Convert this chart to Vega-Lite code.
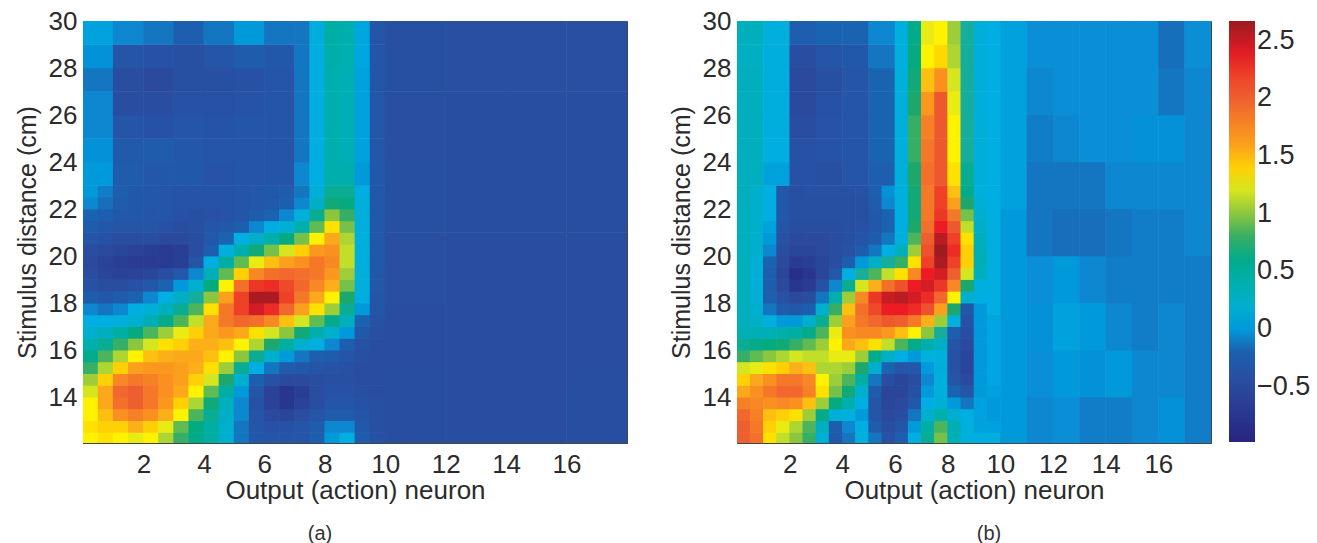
{"$schema":"https://vega.github.io/schema/vega-lite/v6.json","padding":{"left":14,"top":7,"right":0,"bottom":0},
"background":"white",
"datasets":{
"aF":[
{"x":0.25,"y":12.25,"v":1.3},{"x":0.75,"y":12.25,"v":1.35},{"x":1.25,"y":12.25,"v":1.3},{"x":1.75,"y":12.25,"v":1.25},{"x":2.25,"y":12.25,"v":1.3},{"x":2.75,"y":12.25,"v":1.1},{"x":3.25,"y":12.25,"v":0.8},{"x":3.75,"y":12.25,"v":0.6},{"x":4.25,"y":12.25,"v":0.45},{"x":4.75,"y":12.25,"v":0.2},{"x":5.25,"y":12.25,"v":-0.1},{"x":5.75,"y":12.25,"v":-0.3},{"x":6.25,"y":12.25,"v":-0.35},{"x":6.75,"y":12.25,"v":-0.35},{"x":7.25,"y":12.25,"v":-0.35},{"x":7.75,"y":12.25,"v":-0.2},{"x":8.25,"y":12.25,"v":0},{"x":8.75,"y":12.25,"v":0.05},{"x":9.25,"y":12.25,"v":-0.25},{"x":9.75,"y":12.25,"v":-0.4},
{"x":0.25,"y":12.75,"v":1.35},{"x":0.75,"y":12.75,"v":1.4},{"x":1.25,"y":12.75,"v":1.4},{"x":1.75,"y":12.75,"v":1.5},{"x":2.25,"y":12.75,"v":1.4},{"x":2.75,"y":12.75,"v":1.25},{"x":3.25,"y":12.75,"v":0.9},{"x":3.75,"y":12.75,"v":0.65},{"x":4.25,"y":12.75,"v":0.45},{"x":4.75,"y":12.75,"v":0.2},{"x":5.25,"y":12.75,"v":-0.1},{"x":5.75,"y":12.75,"v":-0.35},{"x":6.25,"y":12.75,"v":-0.4},{"x":6.75,"y":12.75,"v":-0.4},{"x":7.25,"y":12.75,"v":-0.35},{"x":7.75,"y":12.75,"v":-0.25},{"x":8.25,"y":12.75,"v":-0.05},{"x":8.75,"y":12.75,"v":-0.05},{"x":9.25,"y":12.75,"v":-0.3},{"x":9.75,"y":12.75,"v":-0.42},
{"x":0.25,"y":13.25,"v":1.3},{"x":0.75,"y":13.25,"v":1.45},{"x":1.25,"y":13.25,"v":1.7},{"x":1.75,"y":13.25,"v":1.8},{"x":2.25,"y":13.25,"v":1.7},{"x":2.75,"y":13.25,"v":1.5},{"x":3.25,"y":13.25,"v":1.3},{"x":3.75,"y":13.25,"v":0.85},{"x":4.25,"y":13.25,"v":0.55},{"x":4.75,"y":13.25,"v":0.25},{"x":5.25,"y":13.25,"v":-0.05},{"x":5.75,"y":13.25,"v":-0.35},{"x":6.25,"y":13.25,"v":-0.5},{"x":6.75,"y":13.25,"v":-0.55},{"x":7.25,"y":13.25,"v":-0.45},{"x":7.75,"y":13.25,"v":-0.35},{"x":8.25,"y":13.25,"v":-0.25},{"x":8.75,"y":13.25,"v":-0.25},{"x":9.25,"y":13.25,"v":-0.35},{"x":9.75,"y":13.25,"v":-0.42},
{"x":0.25,"y":13.75,"v":1.3},{"x":0.75,"y":13.75,"v":1.55},{"x":1.25,"y":13.75,"v":1.9},{"x":1.75,"y":13.75,"v":2},{"x":2.25,"y":13.75,"v":1.85},{"x":2.75,"y":13.75,"v":1.65},{"x":3.25,"y":13.75,"v":1.4},{"x":3.75,"y":13.75,"v":1.1},{"x":4.25,"y":13.75,"v":0.7},{"x":4.75,"y":13.75,"v":0.3},{"x":5.25,"y":13.75,"v":-0.05},{"x":5.75,"y":13.75,"v":-0.4},{"x":6.25,"y":13.75,"v":-0.6},{"x":6.75,"y":13.75,"v":-0.75},{"x":7.25,"y":13.75,"v":-0.6},{"x":7.75,"y":13.75,"v":-0.45},{"x":8.25,"y":13.75,"v":-0.35},{"x":8.75,"y":13.75,"v":-0.35},{"x":9.25,"y":13.75,"v":-0.4},{"x":9.75,"y":13.75,"v":-0.43},
{"x":0.25,"y":14.25,"v":1.2},{"x":0.75,"y":14.25,"v":1.55},{"x":1.25,"y":14.25,"v":1.95},{"x":1.75,"y":14.25,"v":2},{"x":2.25,"y":14.25,"v":1.85},{"x":2.75,"y":14.25,"v":1.7},{"x":3.25,"y":14.25,"v":1.55},{"x":3.75,"y":14.25,"v":1.3},{"x":4.25,"y":14.25,"v":0.9},{"x":4.75,"y":14.25,"v":0.45},{"x":5.25,"y":14.25,"v":0},{"x":5.75,"y":14.25,"v":-0.35},{"x":6.25,"y":14.25,"v":-0.6},{"x":6.75,"y":14.25,"v":-0.75},{"x":7.25,"y":14.25,"v":-0.65},{"x":7.75,"y":14.25,"v":-0.45},{"x":8.25,"y":14.25,"v":-0.4},{"x":8.75,"y":14.25,"v":-0.4},{"x":9.25,"y":14.25,"v":-0.42},{"x":9.75,"y":14.25,"v":-0.45},
{"x":0.25,"y":14.75,"v":1.05},{"x":0.75,"y":14.75,"v":1.4},{"x":1.25,"y":14.75,"v":1.75},{"x":1.75,"y":14.75,"v":1.85},{"x":2.25,"y":14.75,"v":1.8},{"x":2.75,"y":14.75,"v":1.7},{"x":3.25,"y":14.75,"v":1.6},{"x":3.75,"y":14.75,"v":1.4},{"x":4.25,"y":14.75,"v":1.2},{"x":4.75,"y":14.75,"v":0.75},{"x":5.25,"y":14.75,"v":0.2},{"x":5.75,"y":14.75,"v":-0.2},{"x":6.25,"y":14.75,"v":-0.4},{"x":6.75,"y":14.75,"v":-0.5},{"x":7.25,"y":14.75,"v":-0.5},{"x":7.75,"y":14.75,"v":-0.45},{"x":8.25,"y":14.75,"v":-0.42},{"x":8.75,"y":14.75,"v":-0.42},{"x":9.25,"y":14.75,"v":-0.45},{"x":9.75,"y":14.75,"v":-0.45},
{"x":0.25,"y":15.25,"v":0.8},{"x":0.75,"y":15.25,"v":1.1},{"x":1.25,"y":15.25,"v":1.4},{"x":1.75,"y":15.25,"v":1.6},{"x":2.25,"y":15.25,"v":1.65},{"x":2.75,"y":15.25,"v":1.65},{"x":3.25,"y":15.25,"v":1.6},{"x":3.75,"y":15.25,"v":1.5},{"x":4.25,"y":15.25,"v":1.35},{"x":4.75,"y":15.25,"v":1.05},{"x":5.25,"y":15.25,"v":0.55},{"x":5.75,"y":15.25,"v":0.05},{"x":6.25,"y":15.25,"v":-0.1},{"x":6.75,"y":15.25,"v":-0.25},{"x":7.25,"y":15.25,"v":-0.3},{"x":7.75,"y":15.25,"v":-0.35},{"x":8.25,"y":15.25,"v":-0.38},{"x":8.75,"y":15.25,"v":-0.4},{"x":9.25,"y":15.25,"v":-0.45},{"x":9.75,"y":15.25,"v":-0.45},
{"x":0.25,"y":15.75,"v":0.6},{"x":0.75,"y":15.75,"v":0.85},{"x":1.25,"y":15.75,"v":1.1},{"x":1.75,"y":15.75,"v":1.3},{"x":2.25,"y":15.75,"v":1.45},{"x":2.75,"y":15.75,"v":1.5},{"x":3.25,"y":15.75,"v":1.55},{"x":3.75,"y":15.75,"v":1.55},{"x":4.25,"y":15.75,"v":1.45},{"x":4.75,"y":15.75,"v":1.3},{"x":5.25,"y":15.75,"v":1},{"x":5.75,"y":15.75,"v":0.55},{"x":6.25,"y":15.75,"v":0.2},{"x":6.75,"y":15.75,"v":0},{"x":7.25,"y":15.75,"v":-0.1},{"x":7.75,"y":15.75,"v":-0.2},{"x":8.25,"y":15.75,"v":-0.25},{"x":8.75,"y":15.75,"v":-0.35},{"x":9.25,"y":15.75,"v":-0.42},{"x":9.75,"y":15.75,"v":-0.45},
{"x":0.25,"y":16.25,"v":0.4},{"x":0.75,"y":16.25,"v":0.55},{"x":1.25,"y":16.25,"v":0.8},{"x":1.75,"y":16.25,"v":1},{"x":2.25,"y":16.25,"v":1.2},{"x":2.75,"y":16.25,"v":1.35},{"x":3.25,"y":16.25,"v":1.4},{"x":3.75,"y":16.25,"v":1.5},{"x":4.25,"y":16.25,"v":1.5},{"x":4.75,"y":16.25,"v":1.45},{"x":5.25,"y":16.25,"v":1.3},{"x":5.75,"y":16.25,"v":1.1},{"x":6.25,"y":16.25,"v":0.75},{"x":6.75,"y":16.25,"v":0.45},{"x":7.25,"y":16.25,"v":0.2},{"x":7.75,"y":16.25,"v":0.05},{"x":8.25,"y":16.25,"v":-0.05},{"x":8.75,"y":16.25,"v":-0.2},{"x":9.25,"y":16.25,"v":-0.4},{"x":9.75,"y":16.25,"v":-0.45},
{"x":0.25,"y":16.75,"v":0.2},{"x":0.75,"y":16.75,"v":0.3},{"x":1.25,"y":16.75,"v":0.45},{"x":1.75,"y":16.75,"v":0.65},{"x":2.25,"y":16.75,"v":0.85},{"x":2.75,"y":16.75,"v":1.05},{"x":3.25,"y":16.75,"v":1.25},{"x":3.75,"y":16.75,"v":1.4},{"x":4.25,"y":16.75,"v":1.55},{"x":4.75,"y":16.75,"v":1.65},{"x":5.25,"y":16.75,"v":1.55},{"x":5.75,"y":16.75,"v":1.35},{"x":6.25,"y":16.75,"v":1.2},{"x":6.75,"y":16.75,"v":1},{"x":7.25,"y":16.75,"v":0.7},{"x":7.75,"y":16.75,"v":0.4},{"x":8.25,"y":16.75,"v":0.2},{"x":8.75,"y":16.75,"v":0},{"x":9.25,"y":16.75,"v":-0.3},{"x":9.75,"y":16.75,"v":-0.42},
{"x":0.25,"y":17.25,"v":0.05},{"x":0.75,"y":17.25,"v":0.05},{"x":1.25,"y":17.25,"v":0.1},{"x":1.75,"y":17.25,"v":0.2},{"x":2.25,"y":17.25,"v":0.35},{"x":2.75,"y":17.25,"v":0.6},{"x":3.25,"y":17.25,"v":0.85},{"x":3.75,"y":17.25,"v":1.15},{"x":4.25,"y":17.25,"v":1.55},{"x":4.75,"y":17.25,"v":1.85},{"x":5.25,"y":17.25,"v":1.95},{"x":5.75,"y":17.25,"v":1.9},{"x":6.25,"y":17.25,"v":1.75},{"x":6.75,"y":17.25,"v":1.45},{"x":7.25,"y":17.25,"v":1.2},{"x":7.75,"y":17.25,"v":0.9},{"x":8.25,"y":17.25,"v":0.6},{"x":8.75,"y":17.25,"v":0.3},{"x":9.25,"y":17.25,"v":-0.15},{"x":9.75,"y":17.25,"v":-0.4},
{"x":0.25,"y":17.75,"v":-0.05},{"x":0.75,"y":17.75,"v":-0.1},{"x":1.25,"y":17.75,"v":-0.05},{"x":1.75,"y":17.75,"v":0.05},{"x":2.25,"y":17.75,"v":0.15},{"x":2.75,"y":17.75,"v":0.3},{"x":3.25,"y":17.75,"v":0.55},{"x":3.75,"y":17.75,"v":0.85},{"x":4.25,"y":17.75,"v":1.35},{"x":4.75,"y":17.75,"v":1.85},{"x":5.25,"y":17.75,"v":2.2},{"x":5.75,"y":17.75,"v":2.45},{"x":6.25,"y":17.75,"v":2.3},{"x":6.75,"y":17.75,"v":1.95},{"x":7.25,"y":17.75,"v":1.6},{"x":7.75,"y":17.75,"v":1.35},{"x":8.25,"y":17.75,"v":1.05},{"x":8.75,"y":17.75,"v":0.55},{"x":9.25,"y":17.75,"v":0},{"x":9.75,"y":17.75,"v":-0.35},
{"x":0.25,"y":18.25,"v":-0.25},{"x":0.75,"y":18.25,"v":-0.3},{"x":1.25,"y":18.25,"v":-0.25},{"x":1.75,"y":18.25,"v":-0.15},{"x":2.25,"y":18.25,"v":-0.05},{"x":2.75,"y":18.25,"v":0.05},{"x":3.25,"y":18.25,"v":0.25},{"x":3.75,"y":18.25,"v":0.5},{"x":4.25,"y":18.25,"v":1},{"x":4.75,"y":18.25,"v":1.6},{"x":5.25,"y":18.25,"v":2.2},{"x":5.75,"y":18.25,"v":2.6},{"x":6.25,"y":18.25,"v":2.6},{"x":6.75,"y":18.25,"v":2.2},{"x":7.25,"y":18.25,"v":1.85},{"x":7.75,"y":18.25,"v":1.55},{"x":8.25,"y":18.25,"v":1.3},{"x":8.75,"y":18.25,"v":0.75},{"x":9.25,"y":18.25,"v":0.05},{"x":9.75,"y":18.25,"v":-0.33},
{"x":0.25,"y":18.75,"v":-0.4},{"x":0.75,"y":18.75,"v":-0.45},{"x":1.25,"y":18.75,"v":-0.45},{"x":1.75,"y":18.75,"v":-0.4},{"x":2.25,"y":18.75,"v":-0.3},{"x":2.75,"y":18.75,"v":-0.15},{"x":3.25,"y":18.75,"v":0},{"x":3.75,"y":18.75,"v":0.2},{"x":4.25,"y":18.75,"v":0.65},{"x":4.75,"y":18.75,"v":1.3},{"x":5.25,"y":18.75,"v":1.9},{"x":5.75,"y":18.75,"v":2.25},{"x":6.25,"y":18.75,"v":2.3},{"x":6.75,"y":18.75,"v":2.15},{"x":7.25,"y":18.75,"v":1.95},{"x":7.75,"y":18.75,"v":1.75},{"x":8.25,"y":18.75,"v":1.5},{"x":8.75,"y":18.75,"v":0.95},{"x":9.25,"y":18.75,"v":0.1},{"x":9.75,"y":18.75,"v":-0.32},
{"x":0.25,"y":19.25,"v":-0.45},{"x":0.75,"y":19.25,"v":-0.55},{"x":1.25,"y":19.25,"v":-0.6},{"x":1.75,"y":19.25,"v":-0.6},{"x":2.25,"y":19.25,"v":-0.55},{"x":2.75,"y":19.25,"v":-0.45},{"x":3.25,"y":19.25,"v":-0.3},{"x":3.75,"y":19.25,"v":-0.05},{"x":4.25,"y":19.25,"v":0.35},{"x":4.75,"y":19.25,"v":0.9},{"x":5.25,"y":19.25,"v":1.4},{"x":5.75,"y":19.25,"v":1.75},{"x":6.25,"y":19.25,"v":1.9},{"x":6.75,"y":19.25,"v":1.95},{"x":7.25,"y":19.25,"v":1.9},{"x":7.75,"y":19.25,"v":1.85},{"x":8.25,"y":19.25,"v":1.65},{"x":8.75,"y":19.25,"v":1.05},{"x":9.25,"y":19.25,"v":0.1},{"x":9.75,"y":19.25,"v":-0.32},
{"x":0.25,"y":19.75,"v":-0.5},{"x":0.75,"y":19.75,"v":-0.6},{"x":1.25,"y":19.75,"v":-0.65},{"x":1.75,"y":19.75,"v":-0.7},{"x":2.25,"y":19.75,"v":-0.7},{"x":2.75,"y":19.75,"v":-0.7},{"x":3.25,"y":19.75,"v":-0.65},{"x":3.75,"y":19.75,"v":-0.35},{"x":4.25,"y":19.75,"v":0.05},{"x":4.75,"y":19.75,"v":0.45},{"x":5.25,"y":19.75,"v":0.9},{"x":5.75,"y":19.75,"v":1.25},{"x":6.25,"y":19.75,"v":1.45},{"x":6.75,"y":19.75,"v":1.6},{"x":7.25,"y":19.75,"v":1.7},{"x":7.75,"y":19.75,"v":1.85},{"x":8.25,"y":19.75,"v":1.75},{"x":8.75,"y":19.75,"v":1.15},{"x":9.25,"y":19.75,"v":0.1},{"x":9.75,"y":19.75,"v":-0.3},
{"x":0.25,"y":20.25,"v":-0.45},{"x":0.75,"y":20.25,"v":-0.5},{"x":1.25,"y":20.25,"v":-0.55},{"x":1.75,"y":20.25,"v":-0.6},{"x":2.25,"y":20.25,"v":-0.65},{"x":2.75,"y":20.25,"v":-0.7},{"x":3.25,"y":20.25,"v":-0.65},{"x":3.75,"y":20.25,"v":-0.45},{"x":4.25,"y":20.25,"v":-0.2},{"x":4.75,"y":20.25,"v":0.1},{"x":5.25,"y":20.25,"v":0.4},{"x":5.75,"y":20.25,"v":0.7},{"x":6.25,"y":20.25,"v":0.95},{"x":6.75,"y":20.25,"v":1.2},{"x":7.25,"y":20.25,"v":1.4},{"x":7.75,"y":20.25,"v":1.65},{"x":8.25,"y":20.25,"v":1.7},{"x":8.75,"y":20.25,"v":1.15},{"x":9.25,"y":20.25,"v":0.1},{"x":9.75,"y":20.25,"v":-0.3},
{"x":0.25,"y":20.75,"v":-0.35},{"x":0.75,"y":20.75,"v":-0.4},{"x":1.25,"y":20.75,"v":-0.45},{"x":1.75,"y":20.75,"v":-0.45},{"x":2.25,"y":20.75,"v":-0.45},{"x":2.75,"y":20.75,"v":-0.5},{"x":3.25,"y":20.75,"v":-0.5},{"x":3.75,"y":20.75,"v":-0.45},{"x":4.25,"y":20.75,"v":-0.3},{"x":4.75,"y":20.75,"v":-0.15},{"x":5.25,"y":20.75,"v":0.05},{"x":5.75,"y":20.75,"v":0.25},{"x":6.25,"y":20.75,"v":0.4},{"x":6.75,"y":20.75,"v":0.65},{"x":7.25,"y":20.75,"v":0.95},{"x":7.75,"y":20.75,"v":1.3},{"x":8.25,"y":20.75,"v":1.55},{"x":8.75,"y":20.75,"v":1.1},{"x":9.25,"y":20.75,"v":0.1},{"x":9.75,"y":20.75,"v":-0.3},
{"x":0.25,"y":21.25,"v":-0.25},{"x":0.75,"y":21.25,"v":-0.3},{"x":1.25,"y":21.25,"v":-0.35},{"x":1.75,"y":21.25,"v":-0.35},{"x":2.25,"y":21.25,"v":-0.35},{"x":2.75,"y":21.25,"v":-0.4},{"x":3.25,"y":21.25,"v":-0.45},{"x":3.75,"y":21.25,"v":-0.42},{"x":4.25,"y":21.25,"v":-0.35},{"x":4.75,"y":21.25,"v":-0.3},{"x":5.25,"y":21.25,"v":-0.2},{"x":5.75,"y":21.25,"v":-0.05},{"x":6.25,"y":21.25,"v":0.05},{"x":6.75,"y":21.25,"v":0.15},{"x":7.25,"y":21.25,"v":0.4},{"x":7.75,"y":21.25,"v":0.9},{"x":8.25,"y":21.25,"v":1.35},{"x":8.75,"y":21.25,"v":0.95},{"x":9.25,"y":21.25,"v":0.1},{"x":9.75,"y":21.25,"v":-0.3},
{"x":0.25,"y":21.75,"v":-0.15},{"x":0.75,"y":21.75,"v":-0.2},{"x":1.25,"y":21.75,"v":-0.3},{"x":1.75,"y":21.75,"v":-0.3},{"x":2.25,"y":21.75,"v":-0.35},{"x":2.75,"y":21.75,"v":-0.35},{"x":3.25,"y":21.75,"v":-0.4},{"x":3.75,"y":21.75,"v":-0.42},{"x":4.25,"y":21.75,"v":-0.4},{"x":4.75,"y":21.75,"v":-0.38},{"x":5.25,"y":21.75,"v":-0.35},{"x":5.75,"y":21.75,"v":-0.25},{"x":6.25,"y":21.75,"v":-0.15},{"x":6.75,"y":21.75,"v":-0.05},{"x":7.25,"y":21.75,"v":0.1},{"x":7.75,"y":21.75,"v":0.55},{"x":8.25,"y":21.75,"v":1},{"x":8.75,"y":21.75,"v":0.8},{"x":9.25,"y":21.75,"v":0.1},{"x":9.75,"y":21.75,"v":-0.3},
{"x":0.25,"y":22.25,"v":-0.05},{"x":0.75,"y":22.25,"v":-0.12},{"x":1.25,"y":22.25,"v":-0.25},{"x":1.75,"y":22.25,"v":-0.3},{"x":2.25,"y":22.25,"v":-0.32},{"x":2.75,"y":22.25,"v":-0.35},{"x":3.25,"y":22.25,"v":-0.38},{"x":3.75,"y":22.25,"v":-0.38},{"x":4.25,"y":22.25,"v":-0.38},{"x":4.75,"y":22.25,"v":-0.36},{"x":5.25,"y":22.25,"v":-0.35},{"x":5.75,"y":22.25,"v":-0.3},{"x":6.25,"y":22.25,"v":-0.28},{"x":6.75,"y":22.25,"v":-0.2},{"x":7.25,"y":22.25,"v":-0.05},{"x":7.75,"y":22.25,"v":0.25},{"x":8.25,"y":22.25,"v":0.7},{"x":8.75,"y":22.25,"v":0.65},{"x":9.25,"y":22.25,"v":0.1},{"x":9.75,"y":22.25,"v":-0.3},
{"x":0.25,"y":22.75,"v":0},{"x":0.75,"y":22.75,"v":-0.08},{"x":1.25,"y":22.75,"v":-0.22},{"x":1.75,"y":22.75,"v":-0.3},{"x":2.25,"y":22.75,"v":-0.32},{"x":2.75,"y":22.75,"v":-0.35},{"x":3.25,"y":22.75,"v":-0.36},{"x":3.75,"y":22.75,"v":-0.36},{"x":4.25,"y":22.75,"v":-0.36},{"x":4.75,"y":22.75,"v":-0.36},{"x":5.25,"y":22.75,"v":-0.35},{"x":5.75,"y":22.75,"v":-0.32},{"x":6.25,"y":22.75,"v":-0.3},{"x":6.75,"y":22.75,"v":-0.25},{"x":7.25,"y":22.75,"v":-0.1},{"x":7.75,"y":22.75,"v":0.12},{"x":8.25,"y":22.75,"v":0.55},{"x":8.75,"y":22.75,"v":0.55},{"x":9.25,"y":22.75,"v":0.05},{"x":9.75,"y":22.75,"v":-0.3}
],
"aL":[
{"x":0.5,"y":23.5,"v":0},{"x":1.5,"y":23.5,"v":-0.25},{"x":2.5,"y":23.5,"v":-0.32},{"x":3.5,"y":23.5,"v":-0.3},{"x":4.5,"y":23.5,"v":-0.38},{"x":5.5,"y":23.5,"v":-0.35},{"x":6.5,"y":23.5,"v":-0.33},
{"x":0.5,"y":24.5,"v":-0.02},{"x":1.5,"y":24.5,"v":-0.28},{"x":2.5,"y":24.5,"v":-0.25},{"x":3.5,"y":24.5,"v":-0.32},{"x":4.5,"y":24.5,"v":-0.35},{"x":5.5,"y":24.5,"v":-0.35},{"x":6.5,"y":24.5,"v":-0.35},
{"x":0.5,"y":25.5,"v":-0.05},{"x":1.5,"y":25.5,"v":-0.35},{"x":2.5,"y":25.5,"v":-0.4},{"x":3.5,"y":25.5,"v":-0.35},{"x":4.5,"y":25.5,"v":-0.36},{"x":5.5,"y":25.5,"v":-0.33},{"x":6.5,"y":25.5,"v":-0.33},
{"x":0.5,"y":26.5,"v":-0.05},{"x":1.5,"y":26.5,"v":-0.45},{"x":2.5,"y":26.5,"v":-0.45},{"x":3.5,"y":26.5,"v":-0.4},{"x":4.5,"y":26.5,"v":-0.4},{"x":5.5,"y":26.5,"v":-0.38},{"x":6.5,"y":26.5,"v":-0.35},
{"x":0.5,"y":27.5,"v":-0.1},{"x":1.5,"y":27.5,"v":-0.45},{"x":2.5,"y":27.5,"v":-0.5},{"x":3.5,"y":27.5,"v":-0.42},{"x":4.5,"y":27.5,"v":-0.42},{"x":5.5,"y":27.5,"v":-0.4},{"x":6.5,"y":27.5,"v":-0.35},
{"x":0.5,"y":28.5,"v":-0.02},{"x":1.5,"y":28.5,"v":-0.35},{"x":2.5,"y":28.5,"v":-0.4},{"x":3.5,"y":28.5,"v":-0.42},{"x":4.5,"y":28.5,"v":-0.35},{"x":5.5,"y":28.5,"v":-0.25},{"x":6.5,"y":28.5,"v":-0.3},
{"x":0.5,"y":29.5,"v":0.02},{"x":1.5,"y":29.5,"v":-0.05},{"x":2.5,"y":29.5,"v":-0.1},{"x":3.5,"y":29.5,"v":-0.2},{"x":4.5,"y":29.5,"v":-0.1},{"x":5.5,"y":29.5,"v":0},{"x":6.5,"y":29.5,"v":-0.1}
],
"aS":[
{"x":7.25,"y":23.5,"v":-0.05},{"x":7.75,"y":23.5,"v":0.05},{"x":8.25,"y":23.5,"v":0.4},{"x":8.75,"y":23.5,"v":0.4},{"x":9.25,"y":23.5,"v":0},{"x":9.75,"y":23.5,"v":-0.3},
{"x":7.25,"y":24.5,"v":-0.1},{"x":7.75,"y":24.5,"v":0.05},{"x":8.25,"y":24.5,"v":0.4},{"x":8.75,"y":24.5,"v":0.35},{"x":9.25,"y":24.5,"v":0.02},{"x":9.75,"y":24.5,"v":-0.32},
{"x":7.25,"y":25.5,"v":-0.1},{"x":7.75,"y":25.5,"v":0.05},{"x":8.25,"y":25.5,"v":0.4},{"x":8.75,"y":25.5,"v":0.35},{"x":9.25,"y":25.5,"v":0.02},{"x":9.75,"y":25.5,"v":-0.32},
{"x":7.25,"y":26.5,"v":-0.1},{"x":7.75,"y":26.5,"v":0.05},{"x":8.25,"y":26.5,"v":0.4},{"x":8.75,"y":26.5,"v":0.35},{"x":9.25,"y":26.5,"v":0.02},{"x":9.75,"y":26.5,"v":-0.32},
{"x":7.25,"y":27.5,"v":-0.1},{"x":7.75,"y":27.5,"v":0.05},{"x":8.25,"y":27.5,"v":0.4},{"x":8.75,"y":27.5,"v":0.35},{"x":9.25,"y":27.5,"v":0.02},{"x":9.75,"y":27.5,"v":-0.33},
{"x":7.25,"y":28.5,"v":-0.1},{"x":7.75,"y":28.5,"v":0.06},{"x":8.25,"y":28.5,"v":0.42},{"x":8.75,"y":28.5,"v":0.38},{"x":9.25,"y":28.5,"v":0.03},{"x":9.75,"y":28.5,"v":-0.34},
{"x":7.25,"y":29.5,"v":-0.1},{"x":7.75,"y":29.5,"v":0.08},{"x":8.25,"y":29.5,"v":0.45},{"x":8.75,"y":29.5,"v":0.4},{"x":9.25,"y":29.5,"v":0.03},{"x":9.75,"y":29.5,"v":-0.35}
],
"aR":[
{"x":11,"y":13.5,"v":-0.44},{"x":13,"y":13.5,"v":-0.45},{"x":15,"y":13.5,"v":-0.45},{"x":17,"y":13.5,"v":-0.44},
{"x":11,"y":16.5,"v":-0.45},{"x":13,"y":16.5,"v":-0.46},{"x":15,"y":16.5,"v":-0.45},{"x":17,"y":16.5,"v":-0.45},
{"x":11,"y":19.5,"v":-0.43},{"x":13,"y":19.5,"v":-0.45},{"x":15,"y":19.5,"v":-0.46},{"x":17,"y":19.5,"v":-0.45},
{"x":11,"y":22.5,"v":-0.42},{"x":13,"y":22.5,"v":-0.44},{"x":15,"y":22.5,"v":-0.44},{"x":17,"y":22.5,"v":-0.44},
{"x":11,"y":25.5,"v":-0.43},{"x":13,"y":25.5,"v":-0.44},{"x":15,"y":25.5,"v":-0.44},{"x":17,"y":25.5,"v":-0.44},
{"x":11,"y":28.5,"v":-0.42},{"x":13,"y":28.5,"v":-0.43},{"x":15,"y":28.5,"v":-0.43},{"x":17,"y":28.5,"v":-0.43}
],
"bF":[
{"x":0.25,"y":12.25,"v":2},{"x":0.75,"y":12.25,"v":1.9},{"x":1.25,"y":12.25,"v":1.35},{"x":1.75,"y":12.25,"v":1.15},{"x":2.25,"y":12.25,"v":1},{"x":2.75,"y":12.25,"v":0.8},{"x":3.25,"y":12.25,"v":0.15},{"x":3.75,"y":12.25,"v":-0.3},{"x":4.25,"y":12.25,"v":-0.1},{"x":4.75,"y":12.25,"v":0.1},{"x":5.25,"y":12.25,"v":-0.1},{"x":5.75,"y":12.25,"v":-0.4},{"x":6.25,"y":12.25,"v":-0.2},{"x":6.75,"y":12.25,"v":0.05},{"x":7.25,"y":12.25,"v":0.55},{"x":7.75,"y":12.25,"v":0.95},{"x":8.25,"y":12.25,"v":0.35},{"x":8.75,"y":12.25,"v":0.1},{"x":9.25,"y":12.25,"v":0.05},{"x":9.75,"y":12.25,"v":0.05},
{"x":0.25,"y":12.75,"v":2},{"x":0.75,"y":12.75,"v":1.85},{"x":1.25,"y":12.75,"v":1.4},{"x":1.75,"y":12.75,"v":1.25},{"x":2.25,"y":12.75,"v":1.1},{"x":2.75,"y":12.75,"v":0.85},{"x":3.25,"y":12.75,"v":0.3},{"x":3.75,"y":12.75,"v":-0.25},{"x":4.25,"y":12.75,"v":-0.05},{"x":4.75,"y":12.75,"v":0.05},{"x":5.25,"y":12.75,"v":-0.25},{"x":5.75,"y":12.75,"v":-0.45},{"x":6.25,"y":12.75,"v":-0.35},{"x":6.75,"y":12.75,"v":0},{"x":7.25,"y":12.75,"v":0.45},{"x":7.75,"y":12.75,"v":0.85},{"x":8.25,"y":12.75,"v":0.35},{"x":8.75,"y":12.75,"v":0.1},{"x":9.25,"y":12.75,"v":0.02},{"x":9.75,"y":12.75,"v":0.02},
{"x":0.25,"y":13.25,"v":1.95},{"x":0.75,"y":13.25,"v":1.8},{"x":1.25,"y":13.25,"v":1.45},{"x":1.75,"y":13.25,"v":1.4},{"x":2.25,"y":13.25,"v":1.35},{"x":2.75,"y":13.25,"v":1.05},{"x":3.25,"y":13.25,"v":0.6},{"x":3.75,"y":13.25,"v":0.15},{"x":4.25,"y":13.25,"v":0.1},{"x":4.75,"y":13.25,"v":0},{"x":5.25,"y":13.25,"v":-0.35},{"x":5.75,"y":13.25,"v":-0.5},{"x":6.25,"y":13.25,"v":-0.45},{"x":6.75,"y":13.25,"v":-0.1},{"x":7.25,"y":13.25,"v":0.2},{"x":7.75,"y":13.25,"v":0.4},{"x":8.25,"y":13.25,"v":0.2},{"x":8.75,"y":13.25,"v":0.05},{"x":9.25,"y":13.25,"v":0.02},{"x":9.75,"y":13.25,"v":0},
{"x":0.25,"y":13.75,"v":1.8},{"x":0.75,"y":13.75,"v":1.75},{"x":1.25,"y":13.75,"v":1.7},{"x":1.75,"y":13.75,"v":1.75},{"x":2.25,"y":13.75,"v":1.7},{"x":2.75,"y":13.75,"v":1.45},{"x":3.25,"y":13.75,"v":1.05},{"x":3.75,"y":13.75,"v":0.65},{"x":4.25,"y":13.75,"v":0.4},{"x":4.75,"y":13.75,"v":0.05},{"x":5.25,"y":13.75,"v":-0.35},{"x":5.75,"y":13.75,"v":-0.55},{"x":6.25,"y":13.75,"v":-0.5},{"x":6.75,"y":13.75,"v":-0.3},{"x":7.25,"y":13.75,"v":0.05},{"x":7.75,"y":13.75,"v":0.15},{"x":8.25,"y":13.75,"v":0},{"x":8.75,"y":13.75,"v":-0.1},{"x":9.25,"y":13.75,"v":0.02},{"x":9.75,"y":13.75,"v":0},
{"x":0.25,"y":14.25,"v":1.55},{"x":0.75,"y":14.25,"v":1.7},{"x":1.25,"y":14.25,"v":1.85},{"x":1.75,"y":14.25,"v":1.95},{"x":2.25,"y":14.25,"v":1.95},{"x":2.75,"y":14.25,"v":1.8},{"x":3.25,"y":14.25,"v":1.35},{"x":3.75,"y":14.25,"v":0.95},{"x":4.25,"y":14.25,"v":0.7},{"x":4.75,"y":14.25,"v":0.2},{"x":5.25,"y":14.25,"v":-0.25},{"x":5.75,"y":14.25,"v":-0.55},{"x":6.25,"y":14.25,"v":-0.55},{"x":6.75,"y":14.25,"v":-0.4},{"x":7.25,"y":14.25,"v":0},{"x":7.75,"y":14.25,"v":0.1},{"x":8.25,"y":14.25,"v":-0.15},{"x":8.75,"y":14.25,"v":-0.35},{"x":9.25,"y":14.25,"v":0},{"x":9.75,"y":14.25,"v":0.02},
{"x":0.25,"y":14.75,"v":1.4},{"x":0.75,"y":14.75,"v":1.55},{"x":1.25,"y":14.75,"v":1.7},{"x":1.75,"y":14.75,"v":1.85},{"x":2.25,"y":14.75,"v":1.85},{"x":2.75,"y":14.75,"v":1.75},{"x":3.25,"y":14.75,"v":1.3},{"x":3.75,"y":14.75,"v":1.05},{"x":4.25,"y":14.75,"v":0.85},{"x":4.75,"y":14.75,"v":0.45},{"x":5.25,"y":14.75,"v":-0.1},{"x":5.75,"y":14.75,"v":-0.45},{"x":6.25,"y":14.75,"v":-0.55},{"x":6.75,"y":14.75,"v":-0.45},{"x":7.25,"y":14.75,"v":-0.05},{"x":7.75,"y":14.75,"v":0.1},{"x":8.25,"y":14.75,"v":-0.35},{"x":8.75,"y":14.75,"v":-0.5},{"x":9.25,"y":14.75,"v":0},{"x":9.75,"y":14.75,"v":0.03},
{"x":0.25,"y":15.25,"v":1.2},{"x":0.75,"y":15.25,"v":1.25},{"x":1.25,"y":15.25,"v":1.35},{"x":1.75,"y":15.25,"v":1.4},{"x":2.25,"y":15.25,"v":1.5},{"x":2.75,"y":15.25,"v":1.45},{"x":3.25,"y":15.25,"v":1.1},{"x":3.75,"y":15.25,"v":1.1},{"x":4.25,"y":15.25,"v":1.05},{"x":4.75,"y":15.25,"v":0.75},{"x":5.25,"y":15.25,"v":0.2},{"x":5.75,"y":15.25,"v":-0.15},{"x":6.25,"y":15.25,"v":-0.35},{"x":6.75,"y":15.25,"v":-0.3},{"x":7.25,"y":15.25,"v":0},{"x":7.75,"y":15.25,"v":0.12},{"x":8.25,"y":15.25,"v":-0.4},{"x":8.75,"y":15.25,"v":-0.55},{"x":9.25,"y":15.25,"v":0},{"x":9.75,"y":15.25,"v":0.03},
{"x":0.25,"y":15.75,"v":0.8},{"x":0.75,"y":15.75,"v":0.9},{"x":1.25,"y":15.75,"v":1},{"x":1.75,"y":15.75,"v":1.1},{"x":2.25,"y":15.75,"v":1.2},{"x":2.75,"y":15.75,"v":1.15},{"x":3.25,"y":15.75,"v":1.15},{"x":3.75,"y":15.75,"v":1.25},{"x":4.25,"y":15.75,"v":1.25},{"x":4.75,"y":15.75,"v":1.05},{"x":5.25,"y":15.75,"v":0.6},{"x":5.75,"y":15.75,"v":0.25},{"x":6.25,"y":15.75,"v":0.05},{"x":6.75,"y":15.75,"v":0},{"x":7.25,"y":15.75,"v":0.1},{"x":7.75,"y":15.75,"v":0.1},{"x":8.25,"y":15.75,"v":-0.4},{"x":8.75,"y":15.75,"v":-0.55},{"x":9.25,"y":15.75,"v":0},{"x":9.75,"y":15.75,"v":0.03},
{"x":0.25,"y":16.25,"v":0.55},{"x":0.75,"y":16.25,"v":0.6},{"x":1.25,"y":16.25,"v":0.65},{"x":1.75,"y":16.25,"v":0.7},{"x":2.25,"y":16.25,"v":0.8},{"x":2.75,"y":16.25,"v":0.9},{"x":3.25,"y":16.25,"v":1.05},{"x":3.75,"y":16.25,"v":1.3},{"x":4.25,"y":16.25,"v":1.55},{"x":4.75,"y":16.25,"v":1.45},{"x":5.25,"y":16.25,"v":1.35},{"x":5.75,"y":16.25,"v":1.15},{"x":6.25,"y":16.25,"v":0.85},{"x":6.75,"y":16.25,"v":0.6},{"x":7.25,"y":16.25,"v":0.4},{"x":7.75,"y":16.25,"v":0.25},{"x":8.25,"y":16.25,"v":-0.35},{"x":8.75,"y":16.25,"v":-0.5},{"x":9.25,"y":16.25,"v":0},{"x":9.75,"y":16.25,"v":0.03},
{"x":0.25,"y":16.75,"v":0.35},{"x":0.75,"y":16.75,"v":0.35},{"x":1.25,"y":16.75,"v":0.35},{"x":1.75,"y":16.75,"v":0.4},{"x":2.25,"y":16.75,"v":0.45},{"x":2.75,"y":16.75,"v":0.6},{"x":3.25,"y":16.75,"v":0.85},{"x":3.75,"y":16.75,"v":1.25},{"x":4.25,"y":16.75,"v":1.7},{"x":4.75,"y":16.75,"v":1.75},{"x":5.25,"y":16.75,"v":1.75},{"x":5.75,"y":16.75,"v":1.65},{"x":6.25,"y":16.75,"v":1.45},{"x":6.75,"y":16.75,"v":1.3},{"x":7.25,"y":16.75,"v":1},{"x":7.75,"y":16.75,"v":0.5},{"x":8.25,"y":16.75,"v":-0.2},{"x":8.75,"y":16.75,"v":-0.45},{"x":9.25,"y":16.75,"v":0},{"x":9.75,"y":16.75,"v":0.03},
{"x":0.25,"y":17.25,"v":0.3},{"x":0.75,"y":17.25,"v":0.25},{"x":1.25,"y":17.25,"v":0.1},{"x":1.75,"y":17.25,"v":0},{"x":2.25,"y":17.25,"v":0},{"x":2.75,"y":17.25,"v":0.2},{"x":3.25,"y":17.25,"v":0.55},{"x":3.75,"y":17.25,"v":1.05},{"x":4.25,"y":17.25,"v":1.6},{"x":4.75,"y":17.25,"v":1.85},{"x":5.25,"y":17.25,"v":1.95},{"x":5.75,"y":17.25,"v":2.05},{"x":6.25,"y":17.25,"v":2},{"x":6.75,"y":17.25,"v":1.85},{"x":7.25,"y":17.25,"v":1.5},{"x":7.75,"y":17.25,"v":1.05},{"x":8.25,"y":17.25,"v":0.1},{"x":8.75,"y":17.25,"v":-0.4},{"x":9.25,"y":17.25,"v":0},{"x":9.75,"y":17.25,"v":0.03},
{"x":0.25,"y":17.75,"v":0.3},{"x":0.75,"y":17.75,"v":0.2},{"x":1.25,"y":17.75,"v":-0.1},{"x":1.75,"y":17.75,"v":-0.25},{"x":2.25,"y":17.75,"v":-0.3},{"x":2.75,"y":17.75,"v":-0.2},{"x":3.25,"y":17.75,"v":0.2},{"x":3.75,"y":17.75,"v":0.8},{"x":4.25,"y":17.75,"v":1.45},{"x":4.75,"y":17.75,"v":1.9},{"x":5.25,"y":17.75,"v":2.15},{"x":5.75,"y":17.75,"v":2.35},{"x":6.25,"y":17.75,"v":2.35},{"x":6.75,"y":17.75,"v":2.3},{"x":7.25,"y":17.75,"v":2.1},{"x":7.75,"y":17.75,"v":1.6},{"x":8.25,"y":17.75,"v":0.75},{"x":8.75,"y":17.75,"v":-0.3},{"x":9.25,"y":17.75,"v":0},{"x":9.75,"y":17.75,"v":0.05},
{"x":0.25,"y":18.25,"v":0.3},{"x":0.75,"y":18.25,"v":0.15},{"x":1.25,"y":18.25,"v":-0.2},{"x":1.75,"y":18.25,"v":-0.4},{"x":2.25,"y":18.25,"v":-0.5},{"x":2.75,"y":18.25,"v":-0.45},{"x":3.25,"y":18.25,"v":-0.1},{"x":3.75,"y":18.25,"v":0.4},{"x":4.25,"y":18.25,"v":1.05},{"x":4.75,"y":18.25,"v":1.75},{"x":5.25,"y":18.25,"v":2.25},{"x":5.75,"y":18.25,"v":2.5},{"x":6.25,"y":18.25,"v":2.55},{"x":6.75,"y":18.25,"v":2.45},{"x":7.25,"y":18.25,"v":2.3},{"x":7.75,"y":18.25,"v":1.95},{"x":8.25,"y":18.25,"v":1.3},{"x":8.75,"y":18.25,"v":0.2},{"x":9.25,"y":18.25,"v":0.05},{"x":9.75,"y":18.25,"v":0.05},
{"x":0.25,"y":18.75,"v":0.3},{"x":0.75,"y":18.75,"v":0.15},{"x":1.25,"y":18.75,"v":-0.25},{"x":1.75,"y":18.75,"v":-0.5},{"x":2.25,"y":18.75,"v":-0.75},{"x":2.75,"y":18.75,"v":-0.7},{"x":3.25,"y":18.75,"v":-0.4},{"x":3.75,"y":18.75,"v":-0.05},{"x":4.25,"y":18.75,"v":0.55},{"x":4.75,"y":18.75,"v":1.2},{"x":5.25,"y":18.75,"v":1.5},{"x":5.75,"y":18.75,"v":1.9},{"x":6.25,"y":18.75,"v":2.1},{"x":6.75,"y":18.75,"v":2.35},{"x":7.25,"y":18.75,"v":2.45},{"x":7.75,"y":18.75,"v":2.25},{"x":8.25,"y":18.75,"v":1.75},{"x":8.75,"y":18.75,"v":0.75},{"x":9.25,"y":18.75,"v":0.1},{"x":9.75,"y":18.75,"v":0.05},
{"x":0.25,"y":19.25,"v":0.3},{"x":0.75,"y":19.25,"v":0.15},{"x":1.25,"y":19.25,"v":-0.2},{"x":1.75,"y":19.25,"v":-0.55},{"x":2.25,"y":19.25,"v":-0.85},{"x":2.75,"y":19.25,"v":-0.75},{"x":3.25,"y":19.25,"v":-0.55},{"x":3.75,"y":19.25,"v":-0.3},{"x":4.25,"y":19.25,"v":0.05},{"x":4.75,"y":19.25,"v":0.5},{"x":5.25,"y":19.25,"v":0.85},{"x":5.75,"y":19.25,"v":1.15},{"x":6.25,"y":19.25,"v":1.35},{"x":6.75,"y":19.25,"v":1.75},{"x":7.25,"y":19.25,"v":2.35},{"x":7.75,"y":19.25,"v":2.45},{"x":8.25,"y":19.25,"v":2},{"x":8.75,"y":19.25,"v":1.2},{"x":9.25,"y":19.25,"v":0.3},{"x":9.75,"y":19.25,"v":0.05},
{"x":0.25,"y":19.75,"v":0.3},{"x":0.75,"y":19.75,"v":0.15},{"x":1.25,"y":19.75,"v":-0.15},{"x":1.75,"y":19.75,"v":-0.5},{"x":2.25,"y":19.75,"v":-0.7},{"x":2.75,"y":19.75,"v":-0.65},{"x":3.25,"y":19.75,"v":-0.55},{"x":3.75,"y":19.75,"v":-0.45},{"x":4.25,"y":19.75,"v":-0.2},{"x":4.75,"y":19.75,"v":0},{"x":5.25,"y":19.75,"v":0.25},{"x":5.75,"y":19.75,"v":0.5},{"x":6.25,"y":19.75,"v":0.8},{"x":6.75,"y":19.75,"v":1.35},{"x":7.25,"y":19.75,"v":2.2},{"x":7.75,"y":19.75,"v":2.6},{"x":8.25,"y":19.75,"v":2.2},{"x":8.75,"y":19.75,"v":1.4},{"x":9.25,"y":19.75,"v":0.35},{"x":9.75,"y":19.75,"v":0.05},
{"x":0.25,"y":20.25,"v":0.3},{"x":0.75,"y":20.25,"v":0.2},{"x":1.25,"y":20.25,"v":-0.05},{"x":1.75,"y":20.25,"v":-0.45},{"x":2.25,"y":20.25,"v":-0.55},{"x":2.75,"y":20.25,"v":-0.55},{"x":3.25,"y":20.25,"v":-0.5},{"x":3.75,"y":20.25,"v":-0.45},{"x":4.25,"y":20.25,"v":-0.4},{"x":4.75,"y":20.25,"v":-0.25},{"x":5.25,"y":20.25,"v":-0.1},{"x":5.75,"y":20.25,"v":0.05},{"x":6.25,"y":20.25,"v":0.3},{"x":6.75,"y":20.25,"v":1.05},{"x":7.25,"y":20.25,"v":2.1},{"x":7.75,"y":20.25,"v":2.65},{"x":8.25,"y":20.25,"v":2.3},{"x":8.75,"y":20.25,"v":1.4},{"x":9.25,"y":20.25,"v":0.35},{"x":9.75,"y":20.25,"v":0.05},
{"x":0.25,"y":20.75,"v":0.3},{"x":0.75,"y":20.75,"v":0.2},{"x":1.25,"y":20.75,"v":0},{"x":1.75,"y":20.75,"v":-0.4},{"x":2.25,"y":20.75,"v":-0.5},{"x":2.75,"y":20.75,"v":-0.5},{"x":3.25,"y":20.75,"v":-0.5},{"x":3.75,"y":20.75,"v":-0.45},{"x":4.25,"y":20.75,"v":-0.42},{"x":4.75,"y":20.75,"v":-0.35},{"x":5.25,"y":20.75,"v":-0.25},{"x":5.75,"y":20.75,"v":-0.1},{"x":6.25,"y":20.75,"v":0.1},{"x":6.75,"y":20.75,"v":0.85},{"x":7.25,"y":20.75,"v":2},{"x":7.75,"y":20.75,"v":2.55},{"x":8.25,"y":20.75,"v":2.2},{"x":8.75,"y":20.75,"v":1.35},{"x":9.25,"y":20.75,"v":0.3},{"x":9.75,"y":20.75,"v":0.05},
{"x":0.25,"y":21.25,"v":0.3},{"x":0.75,"y":21.25,"v":0.22},{"x":1.25,"y":21.25,"v":0.02},{"x":1.75,"y":21.25,"v":-0.35},{"x":2.25,"y":21.25,"v":-0.45},{"x":2.75,"y":21.25,"v":-0.45},{"x":3.25,"y":21.25,"v":-0.45},{"x":3.75,"y":21.25,"v":-0.45},{"x":4.25,"y":21.25,"v":-0.42},{"x":4.75,"y":21.25,"v":-0.4},{"x":5.25,"y":21.25,"v":-0.3},{"x":5.75,"y":21.25,"v":-0.15},{"x":6.25,"y":21.25,"v":0.05},{"x":6.75,"y":21.25,"v":0.75},{"x":7.25,"y":21.25,"v":1.9},{"x":7.75,"y":21.25,"v":2.35},{"x":8.25,"y":21.25,"v":2.05},{"x":8.75,"y":21.25,"v":1.15},{"x":9.25,"y":21.25,"v":0.25},{"x":9.75,"y":21.25,"v":0.05},
{"x":0.25,"y":21.75,"v":0.3},{"x":0.75,"y":21.75,"v":0.22},{"x":1.25,"y":21.75,"v":0.05},{"x":1.75,"y":21.75,"v":-0.3},{"x":2.25,"y":21.75,"v":-0.42},{"x":2.75,"y":21.75,"v":-0.42},{"x":3.25,"y":21.75,"v":-0.42},{"x":3.75,"y":21.75,"v":-0.42},{"x":4.25,"y":21.75,"v":-0.42},{"x":4.75,"y":21.75,"v":-0.42},{"x":5.25,"y":21.75,"v":-0.3},{"x":5.75,"y":21.75,"v":-0.15},{"x":6.25,"y":21.75,"v":0.05},{"x":6.75,"y":21.75,"v":0.7},{"x":7.25,"y":21.75,"v":1.85},{"x":7.75,"y":21.75,"v":2.25},{"x":8.25,"y":21.75,"v":1.85},{"x":8.75,"y":21.75,"v":0.95},{"x":9.25,"y":21.75,"v":0.2},{"x":9.75,"y":21.75,"v":0.05},
{"x":0.25,"y":22.25,"v":0.3},{"x":0.75,"y":22.25,"v":0.22},{"x":1.25,"y":22.25,"v":0.05},{"x":1.75,"y":22.25,"v":-0.3},{"x":2.25,"y":22.25,"v":-0.42},{"x":2.75,"y":22.25,"v":-0.42},{"x":3.25,"y":22.25,"v":-0.42},{"x":3.75,"y":22.25,"v":-0.42},{"x":4.25,"y":22.25,"v":-0.42},{"x":4.75,"y":22.25,"v":-0.42},{"x":5.25,"y":22.25,"v":-0.25},{"x":5.75,"y":22.25,"v":-0.05},{"x":6.25,"y":22.25,"v":0.1},{"x":6.75,"y":22.25,"v":0.7},{"x":7.25,"y":22.25,"v":1.85},{"x":7.75,"y":22.25,"v":2.2},{"x":8.25,"y":22.25,"v":1.6},{"x":8.75,"y":22.25,"v":0.75},{"x":9.25,"y":22.25,"v":0.15},{"x":9.75,"y":22.25,"v":0.05},
{"x":0.25,"y":22.75,"v":0.3},{"x":0.75,"y":22.75,"v":0.22},{"x":1.25,"y":22.75,"v":0.05},{"x":1.75,"y":22.75,"v":-0.3},{"x":2.25,"y":22.75,"v":-0.42},{"x":2.75,"y":22.75,"v":-0.4},{"x":3.25,"y":22.75,"v":-0.4},{"x":3.75,"y":22.75,"v":-0.4},{"x":4.25,"y":22.75,"v":-0.4},{"x":4.75,"y":22.75,"v":-0.4},{"x":5.25,"y":22.75,"v":-0.2},{"x":5.75,"y":22.75,"v":-0.02},{"x":6.25,"y":22.75,"v":0.1},{"x":6.75,"y":22.75,"v":0.7},{"x":7.25,"y":22.75,"v":1.85},{"x":7.75,"y":22.75,"v":2.2},{"x":8.25,"y":22.75,"v":1.45},{"x":8.75,"y":22.75,"v":0.6},{"x":9.25,"y":22.75,"v":0.1},{"x":9.75,"y":22.75,"v":0.05}
],
"bL":[
{"x":0.5,"y":23.5,"v":0.3},{"x":1.5,"y":23.5,"v":0.02},{"x":2.5,"y":23.5,"v":-0.4},{"x":3.5,"y":23.5,"v":-0.42},{"x":4.5,"y":23.5,"v":-0.35},{"x":5.5,"y":23.5,"v":-0.2},
{"x":0.5,"y":24.5,"v":0.3},{"x":1.5,"y":24.5,"v":0.05},{"x":2.5,"y":24.5,"v":-0.4},{"x":3.5,"y":24.5,"v":-0.38},{"x":4.5,"y":24.5,"v":-0.35},{"x":5.5,"y":24.5,"v":-0.15},
{"x":0.5,"y":25.5,"v":0.3},{"x":1.5,"y":25.5,"v":0.08},{"x":2.5,"y":25.5,"v":-0.45},{"x":3.5,"y":25.5,"v":-0.38},{"x":4.5,"y":25.5,"v":-0.35},{"x":5.5,"y":25.5,"v":-0.15},
{"x":0.5,"y":26.5,"v":0.3},{"x":1.5,"y":26.5,"v":0.08},{"x":2.5,"y":26.5,"v":-0.5},{"x":3.5,"y":26.5,"v":-0.4},{"x":4.5,"y":26.5,"v":-0.35},{"x":5.5,"y":26.5,"v":-0.15},
{"x":0.5,"y":27.5,"v":0.3},{"x":1.5,"y":27.5,"v":0.08},{"x":2.5,"y":27.5,"v":-0.5},{"x":3.5,"y":27.5,"v":-0.42},{"x":4.5,"y":27.5,"v":-0.35},{"x":5.5,"y":27.5,"v":-0.15},
{"x":0.5,"y":28.5,"v":0.28},{"x":1.5,"y":28.5,"v":0.08},{"x":2.5,"y":28.5,"v":-0.45},{"x":3.5,"y":28.5,"v":-0.35},{"x":4.5,"y":28.5,"v":-0.3},{"x":5.5,"y":28.5,"v":-0.1},
{"x":0.5,"y":29.5,"v":0.3},{"x":1.5,"y":29.5,"v":0.1},{"x":2.5,"y":29.5,"v":-0.2},{"x":3.5,"y":29.5,"v":-0.15},{"x":4.5,"y":29.5,"v":-0.15},{"x":5.5,"y":29.5,"v":-0.05}
],
"bS":[
{"x":6.25,"y":23.5,"v":0.1},{"x":6.75,"y":23.5,"v":0.75},{"x":7.25,"y":23.5,"v":1.9},{"x":7.75,"y":23.5,"v":2.05},{"x":8.25,"y":23.5,"v":1.35},{"x":8.75,"y":23.5,"v":0.55},{"x":9.25,"y":23.5,"v":0.12},{"x":9.75,"y":23.5,"v":0.05},
{"x":6.25,"y":24.5,"v":0.1},{"x":6.75,"y":24.5,"v":0.8},{"x":7.25,"y":24.5,"v":1.85},{"x":7.75,"y":24.5,"v":2.05},{"x":8.25,"y":24.5,"v":1.3},{"x":8.75,"y":24.5,"v":0.5},{"x":9.25,"y":24.5,"v":0.12},{"x":9.75,"y":24.5,"v":0.05},
{"x":6.25,"y":25.5,"v":0.1},{"x":6.75,"y":25.5,"v":0.8},{"x":7.25,"y":25.5,"v":1.8},{"x":7.75,"y":25.5,"v":2.05},{"x":8.25,"y":25.5,"v":1.3},{"x":8.75,"y":25.5,"v":0.5},{"x":9.25,"y":25.5,"v":0.12},{"x":9.75,"y":25.5,"v":0.05},
{"x":6.25,"y":26.5,"v":0.1},{"x":6.75,"y":26.5,"v":0.75},{"x":7.25,"y":26.5,"v":1.65},{"x":7.75,"y":26.5,"v":2.05},{"x":8.25,"y":26.5,"v":1.25},{"x":8.75,"y":26.5,"v":0.5},{"x":9.25,"y":26.5,"v":0.12},{"x":9.75,"y":26.5,"v":0.05},
{"x":6.25,"y":27.5,"v":0.1},{"x":6.75,"y":27.5,"v":0.7},{"x":7.25,"y":27.5,"v":1.45},{"x":7.75,"y":27.5,"v":1.7},{"x":8.25,"y":27.5,"v":1.2},{"x":8.75,"y":27.5,"v":0.5},{"x":9.25,"y":27.5,"v":0.12},{"x":9.75,"y":27.5,"v":0.05},
{"x":6.25,"y":28.5,"v":0.1},{"x":6.75,"y":28.5,"v":0.65},{"x":7.25,"y":28.5,"v":1.3},{"x":7.75,"y":28.5,"v":1.38},{"x":8.25,"y":28.5,"v":1.1},{"x":8.75,"y":28.5,"v":0.5},{"x":9.25,"y":28.5,"v":0.12},{"x":9.75,"y":28.5,"v":0.05},
{"x":6.25,"y":29.5,"v":0.1},{"x":6.75,"y":29.5,"v":0.6},{"x":7.25,"y":29.5,"v":1.25},{"x":7.75,"y":29.5,"v":1.3},{"x":8.25,"y":29.5,"v":1.05},{"x":8.75,"y":29.5,"v":0.5},{"x":9.25,"y":29.5,"v":0.12},{"x":9.75,"y":29.5,"v":0.05}
],
"bR":[
{"x":10.5,"y":13,"v":0},{"x":11.5,"y":13,"v":-0.05},{"x":12.5,"y":13,"v":-0.03},{"x":13.5,"y":13,"v":-0.08},{"x":14.5,"y":13,"v":-0.08},{"x":15.5,"y":13,"v":-0.05},{"x":16.5,"y":13,"v":-0.02},{"x":17.5,"y":13,"v":-0.08},
{"x":10.5,"y":15,"v":0},{"x":11.5,"y":15,"v":-0.03},{"x":12.5,"y":15,"v":0},{"x":13.5,"y":15,"v":-0.02},{"x":14.5,"y":15,"v":0},{"x":15.5,"y":15,"v":-0.05},{"x":16.5,"y":15,"v":-0.05},{"x":17.5,"y":15,"v":-0.08},
{"x":10.5,"y":17,"v":0},{"x":11.5,"y":17,"v":-0.02},{"x":12.5,"y":17,"v":0.02},{"x":13.5,"y":17,"v":0},{"x":14.5,"y":17,"v":-0.05},{"x":15.5,"y":17,"v":-0.08},{"x":16.5,"y":17,"v":-0.05},{"x":17.5,"y":17,"v":-0.08},
{"x":10.5,"y":19,"v":0},{"x":11.5,"y":19,"v":-0.03},{"x":12.5,"y":19,"v":0},{"x":13.5,"y":19,"v":-0.05},{"x":14.5,"y":19,"v":-0.08},{"x":15.5,"y":19,"v":-0.08},{"x":16.5,"y":19,"v":-0.08},{"x":17.5,"y":19,"v":-0.08},
{"x":10.5,"y":21,"v":0},{"x":11.5,"y":21,"v":-0.1},{"x":12.5,"y":21,"v":-0.12},{"x":13.5,"y":21,"v":-0.12},{"x":14.5,"y":21,"v":-0.1},{"x":15.5,"y":21,"v":-0.08},{"x":16.5,"y":21,"v":-0.08},{"x":17.5,"y":21,"v":-0.05},
{"x":10.5,"y":23,"v":0.02},{"x":11.5,"y":23,"v":-0.1},{"x":12.5,"y":23,"v":-0.1},{"x":13.5,"y":23,"v":-0.1},{"x":14.5,"y":23,"v":-0.05},{"x":15.5,"y":23,"v":-0.05},{"x":16.5,"y":23,"v":-0.05},{"x":17.5,"y":23,"v":-0.05},
{"x":10.5,"y":25,"v":0.02},{"x":11.5,"y":25,"v":-0.08},{"x":12.5,"y":25,"v":-0.05},{"x":13.5,"y":25,"v":-0.03},{"x":14.5,"y":25,"v":-0.03},{"x":15.5,"y":25,"v":-0.02},{"x":16.5,"y":25,"v":-0.02},{"x":17.5,"y":25,"v":-0.05},
{"x":10.5,"y":27,"v":0.02},{"x":11.5,"y":27,"v":-0.05},{"x":12.5,"y":27,"v":-0.03},{"x":13.5,"y":27,"v":-0.03},{"x":14.5,"y":27,"v":-0.03},{"x":15.5,"y":27,"v":-0.03},{"x":16.5,"y":27,"v":-0.1},{"x":17.5,"y":27,"v":-0.05},
{"x":10.5,"y":29,"v":0.02},{"x":11.5,"y":29,"v":-0.03},{"x":12.5,"y":29,"v":-0.03},{"x":13.5,"y":29,"v":-0.03},{"x":14.5,"y":29,"v":-0.03},{"x":15.5,"y":29,"v":-0.03},{"x":16.5,"y":29,"v":-0.12},{"x":17.5,"y":29,"v":-0.03}
]
},
"config":{"font":"Liberation Sans","view":{"stroke":"#444"},"axis":{"labelFont":"Liberation Sans","titleFont":"Liberation Sans","labelFontSize":26,"titleFontSize":26,"titleFontWeight":"normal","labelColor":"#2b2b2b","titleColor":"#2b2b2b","grid":false,"domainColor":"#444","tickColor":"#444","tickSize":-5,"labelPadding":13.5},"title":{"font":"Liberation Sans","fontSize":20,"fontWeight":"normal","color":"#333"},"legend":{"labelFont":"Liberation Sans"}},
"hconcat":[
{"width":544,"height":422,"title":{"text":"(a)","orient":"bottom","offset":20,"dx":-35},
"encoding":{"x":{"field":"x","type":"quantitative","scale":{"domain":[0,18],"nice":false},"axis":{"values":[2,4,6,8,10,12,14,16],"title":"Output (action) neuron","titlePadding":0}},"y":{"field":"y","type":"quantitative","scale":{"domain":[12.05,30],"nice":false},"axis":{"values":[14,16,18,20,22,24,26,28,30],"title":"Stimulus distance (cm)","titlePadding":8,"labelPadding":11,"titleFontSize":25}},"color":{"field":"v","type":"quantitative","scale":{"domain":[-0.98,-0.5,-0.15,-0.03,0.05,0.5,0.75,1,1.3,1.5,2,2.35,2.67],"range":["#27257f","#2b4a9e","#1a63b0","#0a8ed6","#00aee2","#16ad9c","#1ca76c","#8cc63f","#fff200","#fbb01a","#ee5f30","#ed1c24","#9a1b1f"]},"legend":{"title":null,"values":[-0.5,0,0.5,1,1.5,2,2.5],"format":".2~f","gradientLength":421,"gradientThickness":26,"labelFontSize":27,"labelColor":"#2b2b2b","offset":17}}},
"layer":[
{"data":{"name":"aF"},"mark":{"type":"rect","width":15.8,"height":12.4,"clip":true}},
{"data":{"name":"aL"},"mark":{"type":"rect","width":30.8,"height":24,"clip":true}},
{"data":{"name":"aS"},"mark":{"type":"rect","width":15.8,"height":24,"clip":true}},
{"data":{"name":"aR"},"mark":{"type":"rect","width":61,"height":71,"clip":true}}
]},
{"width":474,"height":422,"title":{"text":"(b)","orient":"bottom","offset":20,"dx":15},
"encoding":{"x":{"field":"x","type":"quantitative","scale":{"domain":[0,18],"nice":false},"axis":{"values":[2,4,6,8,10,12,14,16],"title":"Output (action) neuron","titlePadding":0}},"y":{"field":"y","type":"quantitative","scale":{"domain":[12.05,30],"nice":false},"axis":{"values":[14,16,18,20,22,24,26,28,30],"title":"Stimulus distance (cm)","titlePadding":8,"labelPadding":11,"titleFontSize":25}},"color":{"field":"v","type":"quantitative","scale":{"domain":[-0.98,-0.5,-0.15,-0.03,0.05,0.5,0.75,1,1.3,1.5,2,2.35,2.67],"range":["#27257f","#2b4a9e","#1a63b0","#0a8ed6","#00aee2","#16ad9c","#1ca76c","#8cc63f","#fff200","#fbb01a","#ee5f30","#ed1c24","#9a1b1f"]},"legend":{"title":null,"values":[-0.5,0,0.5,1,1.5,2,2.5],"format":".2~f","gradientLength":421,"gradientThickness":26,"labelFontSize":27,"labelColor":"#2b2b2b","offset":17}}},
"layer":[
{"data":{"name":"bF"},"mark":{"type":"rect","width":13.8,"height":12.4,"clip":true}},
{"data":{"name":"bL"},"mark":{"type":"rect","width":26.8,"height":24,"clip":true}},
{"data":{"name":"bS"},"mark":{"type":"rect","width":13.8,"height":24,"clip":true}},
{"data":{"name":"bR"},"mark":{"type":"rect","width":26.8,"height":47.5,"clip":true}}
]}
],"spacing":40}
